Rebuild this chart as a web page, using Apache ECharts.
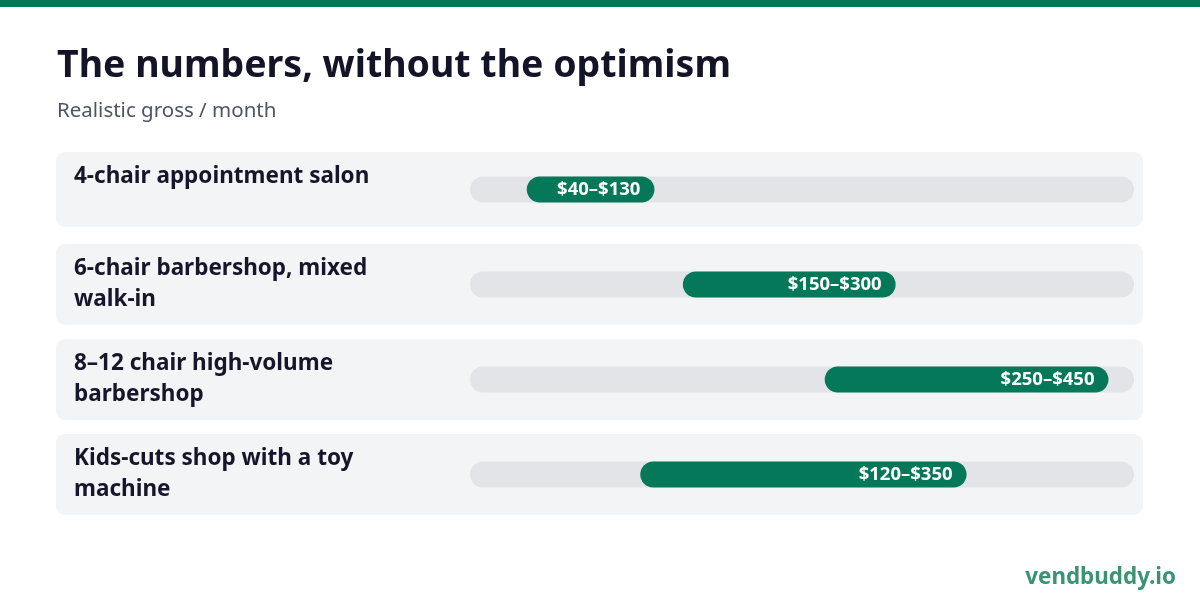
<!DOCTYPE html>
<html lang="en">
<head>
    <meta charset="UTF-8">
    <title>The numbers, without the optimism</title>
    <script src="https://cdn.jsdelivr.net/npm/echarts@6/dist/echarts.min.js"></script>
    <style>
        html, body { margin: 0; padding: 0; background: #fff; }
        #main { width: 1200px; height: 608px; }
    </style>
</head>
<body>
<div id="main"></div>

<script type="text/javascript">
    // data ($ / month)
    var categories = ['4-chair appointment salon', '6-chair barbershop, mixed walk-in',
        '8–12 chair high-volume barbershop', 'Kids-cuts shop with a toy machine'];
    var lows = [40, 150, 250, 120];
    var highs = [130, 300, 450, 350];
    var axisMax = 468;

    var GREEN = '#05785a';
    var FONT = '"Noto Sans", "Open Sans", sans-serif';
    var LABEL_FONT = 'bold 22.5px ' + FONT;

    // wrap the row labels to the label column width
    var ctx = document.createElement('canvas').getContext('2d');
    ctx.font = LABEL_FONT;
    function wrap(text, maxW) {
        var words = text.split(' '), lines = [], cur = '';
        words.forEach(function (w) {
            var t = cur ? cur + ' ' + w : w;
            if (cur && ctx.measureText(t).width > maxW) { lines.push(cur); cur = w; }
            else cur = t;
        });
        lines.push(cur);
        return lines;
    }
    var wrapped = categories.map(function (c) { return wrap(c, 340); });

    var myChart = echarts.init(document.getElementById('main'));

    var option = {
        backgroundColor: '#ffffff',
        animation: false,
        textStyle: { fontFamily: FONT },
        title: {
            text: 'The numbers, without the optimism',
            subtext: 'Realistic gross / month',
            left: 52,
            top: 42,
            itemGap: 16,
            textStyle: { fontSize: 37.5, fontWeight: 'bold', color: '#141428', fontFamily: FONT },
            subtextStyle: { fontSize: 20.5, color: '#4b5563', fontFamily: FONT }
        },
        graphic: [
            { type: 'rect', left: 0, top: 0, shape: { width: 1200, height: 7 }, style: { fill: GREEN } },
            {
                type: 'text', right: 24, top: 567,
                style: { text: 'vendbuddy.io', font: 'bold 22.4px ' + FONT, fill: '#3a9474' }
            }
        ],
        grid: { left: 470, right: 66, top: 142, bottom: 86 },
        xAxis: { type: 'value', min: 0, max: axisMax, show: false },
        yAxis: {
            type: 'category', data: categories, inverse: true,
            axisLine: { show: false }, axisTick: { show: false }, axisLabel: { show: false }
        },
        series: [
            {
                // row cards and their labels
                type: 'custom',
                z: 0,
                data: categories.map(function (c, i) { return [0, i]; }),
                renderItem: function (params, api) {
                    var idx = api.value(1);
                    var cy = api.coord([0, idx])[1];
                    var lines = wrapped[idx];
                    var h = lines.length > 1 ? 81 : 75;
                    var top = cy - h / 2;
                    return {
                        type: 'group',
                        children: [
                            {
                                type: 'rect',
                                shape: { x: 56, y: top, width: 1087, height: h, r: 9 },
                                style: { fill: '#f3f4f6' }
                            },
                            {
                                type: 'text',
                                style: {
                                    text: lines.join('\n'), x: 74, y: top + 9,
                                    font: LABEL_FONT, lineHeight: 31,
                                    fill: '#16162a', verticalAlign: 'top'
                                }
                            }
                        ]
                    };
                }
            },
            {
                type: 'bar', stack: 'range', barWidth: 26, z: 2,
                itemStyle: { color: 'transparent' },
                data: lows
            },
            {
                type: 'bar', stack: 'range', barWidth: 26, z: 2,
                showBackground: true,
                backgroundStyle: { color: '#e2e4e8', borderRadius: 13 },
                itemStyle: { color: GREEN, borderRadius: 13 },
                label: {
                    show: true, position: 'insideRight', distance: 14,
                    color: '#ffffff', fontSize: 18.5, fontWeight: 'bold', fontFamily: FONT,
                    formatter: function (p) {
                        return '$' + lows[p.dataIndex] + '–$' + highs[p.dataIndex];
                    }
                },
                data: highs.map(function (h, i) { return h - lows[i]; })
            }
        ]
    };

    myChart.setOption(option);
</script>
</body>
</html>
